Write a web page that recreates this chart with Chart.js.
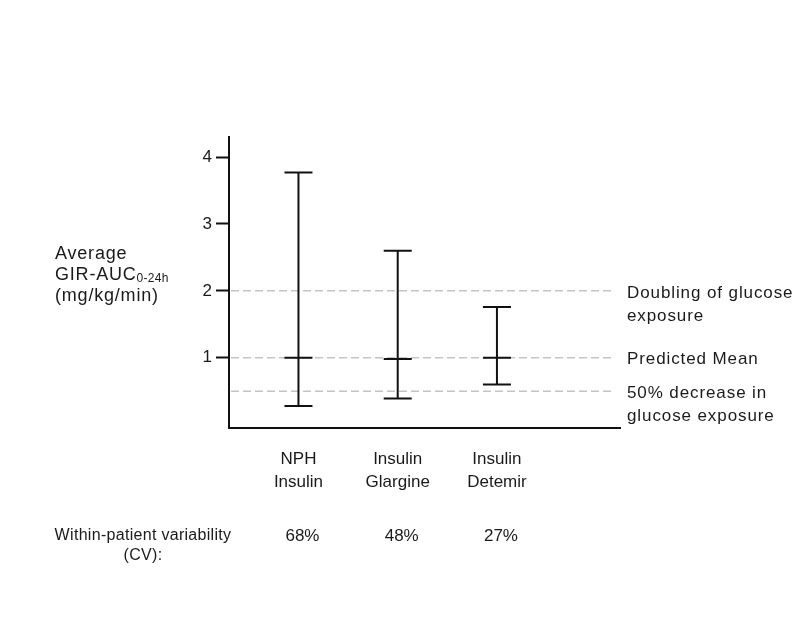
<!DOCTYPE html>
<html>
<head>
<meta charset="utf-8">
<script src="https://cdn.jsdelivr.net/npm/chart.js@4/dist/chart.umd.min.js"></script>
<style>
  html, body { margin: 0; padding: 0; background: #ffffff; }
  #wrap { width: 800px; height: 618px; }
</style>
</head>
<body>
<div id="wrap"><canvas id="c" width="800" height="618"></canvas></div>
<script>
// ---- data ----
const categories = [["NPH", "Insulin"], ["Insulin", "Glargine"], ["Insulin", "Detemir"]];
const means = [1.0, 0.98, 1.0];
const lows = [0.28, 0.39, 0.6];
const highs = [3.77, 2.6, 1.76];
const cvLabels = ["68%", "48%", "27%"];
const yTicks = [1, 2, 3, 4];
const refValues = [2, 1, 0.5];
const refLabels = [["Doubling of glucose", "exposure"], ["Predicted Mean"], ["50% decrease in", "glucose exposure"]];
const yTitleLines = ["Average", "GIR-AUC", "(mg/kg/min)"];
const yTitleSub = "0-24h";
const cvTitle = ["Within-patient variability", "(CV):"];

const FONT = '"Liberation Sans", Arial, sans-serif';
const TEXT = '#1a1a1a';

const refLinesPlugin = {
  id: 'refLines',
  beforeDatasetsDraw(chart) {
    const { ctx, chartArea, scales } = chart;
    ctx.save();
    ctx.strokeStyle = '#c4c4c4';
    ctx.lineWidth = 1.5;
    ctx.setLineDash([8, 4]);
    refValues.forEach(v => {
      const y = scales.y.getPixelForValue(v);
      ctx.beginPath();
      ctx.moveTo(chartArea.left + 2, y);
      ctx.lineTo(chartArea.right - 8, y);
      ctx.stroke();
    });
    ctx.restore();
  }
};

const errorBarPlugin = {
  id: 'errorBars',
  afterDatasetsDraw(chart) {
    const { ctx, scales } = chart;
    ctx.save();
    ctx.strokeStyle = '#111';
    ctx.lineWidth = 2;
    const half = 14;
    means.forEach((m, i) => {
      const x = scales.x.getPixelForValue(i);
      const yLo = scales.y.getPixelForValue(lows[i]);
      const yHi = scales.y.getPixelForValue(highs[i]);
      const yM = scales.y.getPixelForValue(m);
      ctx.beginPath();
      ctx.moveTo(x, yHi); ctx.lineTo(x, yLo);
      ctx.moveTo(x - half, yHi); ctx.lineTo(x + half, yHi);
      ctx.moveTo(x - half, yLo); ctx.lineTo(x + half, yLo);
      ctx.moveTo(x - half, yM); ctx.lineTo(x + half, yM);
      ctx.stroke();
    });
    ctx.restore();
  }
};

const textPlugin = {
  id: 'extraText',
  afterDraw(chart) {
    const { ctx, chartArea, scales } = chart;
    ctx.save();
    ctx.fillStyle = TEXT;
    ctx.textBaseline = 'middle';

    // y title (left aligned block)
    ctx.textAlign = 'left';
    ctx.letterSpacing = '0.8px';
    ctx.font = '18px ' + FONT;
    const tx = 55;
    ctx.fillText(yTitleLines[0], tx, 254);
    ctx.fillText(yTitleLines[1], tx, 275);
    const w = ctx.measureText(yTitleLines[1]).width;
    ctx.font = '12px ' + FONT;
    ctx.letterSpacing = '0.3px';
    ctx.fillText(yTitleSub, tx + w, 279);
    ctx.letterSpacing = '0.8px';
    ctx.font = '18px ' + FONT;
    ctx.fillText(yTitleLines[2], tx, 296);

    // reference line labels
    ctx.font = '17px ' + FONT;
    ctx.letterSpacing = '0.9px';
    refValues.forEach((v, i) => {
      const y = scales.y.getPixelForValue(v) + 2;
      refLabels[i].forEach((line, k) => {
        ctx.fillText(line, chartArea.right + 7, y + k * 23);
      });
    });

    // CV row
    ctx.textAlign = 'center';
    ctx.font = '16px ' + FONT;
    ctx.letterSpacing = '0.3px';
    ctx.fillText(cvTitle[0], 143, 536);
    ctx.fillText(cvTitle[1], 143, 556);
    ctx.font = '17px ' + FONT;
    ctx.letterSpacing = '0px';
    cvLabels.forEach((t, i) => {
      ctx.fillText(t, scales.x.getPixelForValue(i) + 4, 536);
    });
    ctx.restore();
  }
};

new Chart(document.getElementById('c'), {
  type: 'scatter',
  data: {
    datasets: [{
      data: means.map((m, i) => ({ x: i, y: m })),
      pointRadius: 0,
      showLine: false
    }]
  },
  options: {
    responsive: false,
    animation: false,
    layout: { padding: { top: 137, right: 180, left: 0, bottom: 0 } },
    plugins: { legend: { display: false }, tooltip: { enabled: false } },
    scales: {
      x: {
        type: 'linear',
        min: -0.70,
        max: 3.24,
        afterFit: s => { s.height = 190; },
        afterBuildTicks: s => { s.ticks = categories.map((c, i) => ({ value: i })); },
        grid: { display: false, drawTicks: false },
        border: { display: true, color: '#111', width: 2 },
        ticks: {
          padding: 20,
          color: TEXT,
          maxRotation: 0,
          autoSkip: false,
          font: { family: FONT, size: 17, lineHeight: 1.35 },
          callback: (v) => categories[Math.round(v)] || ''
        }
      },
      y: {
        type: 'linear',
        min: -0.05,
        max: 4.3,
        afterFit: s => { s.width = 229; },
        afterBuildTicks: s => { s.ticks = yTicks.map(v => ({ value: v })); },
        grid: { display: true, drawOnChartArea: false, drawTicks: true, tickLength: 13, tickColor: '#111', tickWidth: 2 },
        border: { display: true, color: '#111', width: 2 },
        ticks: {
          padding: 4,
          color: TEXT,
          font: { family: FONT, size: 17 },
          callback: v => String(v)
        }
      }
    }
  },
  plugins: [refLinesPlugin, errorBarPlugin, textPlugin]
});
</script>
</body>
</html>
